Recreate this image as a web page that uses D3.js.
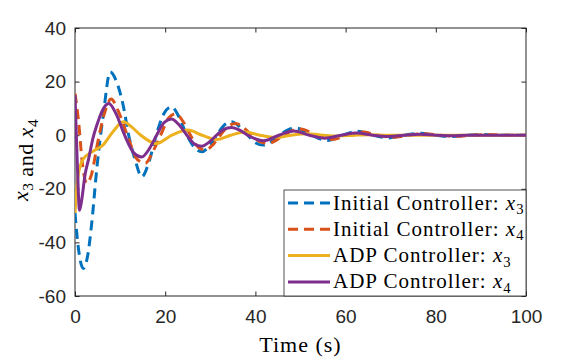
<!DOCTYPE html>
<html>
<head>
<meta charset="utf-8">
<script src="https://cdn.jsdelivr.net/npm/d3@7"></script>
<style>
  body { margin: 0; background: #fff; }
  .tick text { font-family: "Liberation Sans", Arial, sans-serif; font-size: 19px; fill: #262626; }
  .tick line { stroke: #262626; }
  .serif { font-family: "Liberation Serif", "Times New Roman", serif; fill: #000; }
</style>
</head>
<body>
<div id="container"></div>
<script>
var width = 581;
var height = 359;

// [time (s), value]
var initX3 = [[0,-29],[0.6,-40],[1.85,-49.7],[2.8,-45],[3.7,-33],[4.8,-13],[6.3,8],[7.8,23.6],[9.2,20],
  [10.7,11],[11.9,0],[13.3,-9],[14.8,-15.5],[16.4,-10],[18,0],[19.7,8],[21.4,10.6],[23,7],[24.8,0],
  [26.5,-4.6],[28.1,-6.2],[29.8,-4],[31.4,0],[33,3.6],[34.7,5],[36.4,3.3],[38.3,0],[40,-2.8],[41.8,-3.7],
  [43.5,-2.5],[45.4,0],[47.2,2],[49,2.7],[52.5,0],[56,-2],[59.3,0],[62.7,1.5],[66,0],[69.5,-1],[73,0],
  [76.5,0.7],[80,0],[83.5,-0.5],[87,0],[90.5,0.3],[94,0],[100,0]];
var initX4 = [[0,15.6],[0.8,5],[1.6,-10],[2.6,-18],[3.6,-15],[5,-3],[6.5,8],[8,13.5],[9.6,9],[11.6,0],
  [13.8,-9],[15.6,-10.5],[17.3,-6],[19,0],[20.8,6.5],[22.3,8],[24,5],[25.6,0],[27.4,-4.6],[29,-5.5],
  [30.6,-3.5],[32.2,0],[34,3.4],[35.7,4.4],[37.4,2.8],[39.2,0],[41,-2.4],[42.8,-3.1],[44.5,-2],[46.3,0],
  [48.2,1.8],[50,2.3],[53.5,0],[57,-1.6],[60.4,0],[63.8,1.2],[67.2,0],[70.6,-0.8],[74,0],[77.5,0.55],
  [81,0],[84.5,-0.4],[88,0],[91.5,0.25],[95,0],[100,0]];
var adpX3 = [[0,-29],[0.7,-15],[1.8,-9],[4,-6],[6.3,-3.5],[8.5,1.5],[10.7,5],[12.6,3],[14.6,0],[18,-3.1],
  [21.5,0],[25,1.9],[28.2,0],[31.4,-1.6],[34.5,0],[37.7,1.2],[41,0],[44.5,-0.8],[48,0],[51.5,0.5],
  [55,0],[58.5,-0.3],[62,0],[65.5,0.2],[69,0],[100,0]];
var adpX4 = [[0,15],[0.5,-10],[1,-28],[1.5,-24],[2.2,-15],[3,-9],[4,-1],[4.8,3.5],[6,9],[7.5,11.8],
  [9.1,8],[11,0],[13,-6.5],[14.8,-8.1],[16.5,-5],[18.1,0],[19.8,4.8],[21.4,6],[23,4],[24.8,0],
  [26.5,-3.3],[28.1,-4.1],[29.8,-2.5],[31.4,0],[33,2.2],[34.7,2.9],[36.5,1.9],[38.3,0],[41.8,-2.1],
  [45.2,0],[48.5,1.6],[52,0],[55.4,-1.1],[59,0],[62.5,0.8],[66,0],[69.5,-0.5],[73,0],[76.5,0.35],
  [80,0],[83.5,-0.2],[87,0],[100,0]];

var xTicks = [0, 20, 40, 60, 80, 100];
var yTicks = [-60, -40, -20, 0, 20, 40];

var series = [
  { sub: "3", name: "Initial Controller: ", data: initX3, color: "#0072BD", dash: "10,6" },
  { sub: "4", name: "Initial Controller: ", data: initX4, color: "#D95319", dash: "10,6" },
  { sub: "3", name: "ADP Controller: ", data: adpX3, color: "#EDB120", dash: null },
  { sub: "4", name: "ADP Controller: ", data: adpX4, color: "#7E2F8E", dash: null }
];

var x = d3.scaleLinear().domain([0, 100]).range([75, 526]);
var y = d3.scaleLinear().domain([-60, 40]).range([296, 28]);

// plain hyphen minus like matlab
var fmt = function(d) { return String(d); };

var svg = d3.select("#container")
  .append("svg")
  .attr("width", width)
  .attr("height", height);

svg.append("clipPath")
  .attr("id", "clip")
  .append("rect")
  .attr("x", 75).attr("y", 28)
  .attr("width", 451).attr("height", 268);

// axes, ticks point inward on all four sides
svg.append("g")
  .attr("transform", "translate(0,296)")
  .call(d3.axisBottom(x).tickValues(xTicks).tickFormat(fmt).tickSizeInner(-4.5).tickSizeOuter(0).tickPadding(14))
  .call(function(g) { g.select(".domain").remove(); });

svg.append("g")
  .attr("transform", "translate(0,28)")
  .call(d3.axisTop(x).tickValues(xTicks).tickSizeInner(-4.5).tickSizeOuter(0).tickFormat(""))
  .call(function(g) { g.select(".domain").remove(); });

svg.append("g")
  .attr("transform", "translate(75,0)")
  .call(d3.axisLeft(y).tickValues(yTicks).tickFormat(fmt).tickSizeInner(-4.5).tickSizeOuter(0).tickPadding(9))
  .call(function(g) { g.select(".domain").remove(); });

svg.append("g")
  .attr("transform", "translate(526,0)")
  .call(d3.axisRight(y).tickValues(yTicks).tickSizeInner(-4.5).tickSizeOuter(0).tickFormat(""))
  .call(function(g) { g.select(".domain").remove(); });

svg.append("rect")
  .attr("x", 75).attr("y", 28)
  .attr("width", 451).attr("height", 268)
  .attr("fill", "none")
  .attr("stroke", "#262626")
  .attr("stroke-width", 1);

var line = d3.line()
  .x(function(d) { return x(d[0]); })
  .y(function(d) { return y(d[1]); })
  .curve(d3.curveMonotoneX);

svg.append("g")
  .attr("clip-path", "url(#clip)")
  .selectAll("path")
  .data(series)
  .enter().append("path")
  .attr("d", function(d) { return line(d.data); })
  .attr("fill", "none")
  .attr("stroke", function(d) { return d.color; })
  .attr("stroke-width", 3)
  .attr("stroke-dasharray", function(d) { return d.dash; });

// math-ish label: italic x with a subscript
function mathX(text, sub, size) {
  text.append("tspan").attr("font-style", "italic").text("x");
  text.append("tspan").attr("font-size", size * 0.7).attr("dy", size * 0.22).text(sub);
  text.append("tspan").attr("dy", -size * 0.22).text("");
}

// x label
svg.append("text")
  .attr("class", "serif")
  .attr("x", 300.5).attr("y", 352)
  .attr("text-anchor", "middle")
  .attr("font-size", 22)
  .attr("letter-spacing", 1)
  .text("Time (s)");

// y label
var yl = svg.append("text")
  .attr("class", "serif")
  .attr("transform", "translate(28,160)rotate(-90)")
  .attr("text-anchor", "middle")
  .attr("font-size", 22)
  .attr("letter-spacing", 0.5);
mathX(yl, "3", 22);
yl.append("tspan").text(" and ");
mathX(yl, "4", 22);

// legend
var legend = svg.append("g");
legend.append("rect")
  .attr("x", 284).attr("y", 190)
  .attr("width", 242).attr("height", 106)
  .attr("fill", "#fff")
  .attr("stroke", "#262626")
  .attr("stroke-width", 0.8);

var rows = legend.selectAll("g.row")
  .data(series)
  .enter().append("g")
  .attr("class", "row")
  .attr("transform", function(d, i) { return "translate(0," + (203 + i * 26.3) + ")"; });

rows.append("line")
  .attr("x1", 288).attr("x2", 330)
  .attr("stroke", function(d) { return d.color; })
  .attr("stroke-width", 3)
  .attr("stroke-dasharray", function(d) { return d.dash; });

rows.append("text")
  .attr("class", "serif")
  .attr("x", 333).attr("y", 6.5)
  .attr("font-size", 21)
  .attr("letter-spacing", 1)
  .each(function(d) {
    var t = d3.select(this);
    t.append("tspan").text(d.name);
    mathX(t, d.sub, 21);
  });
</script>
</body>
</html>
